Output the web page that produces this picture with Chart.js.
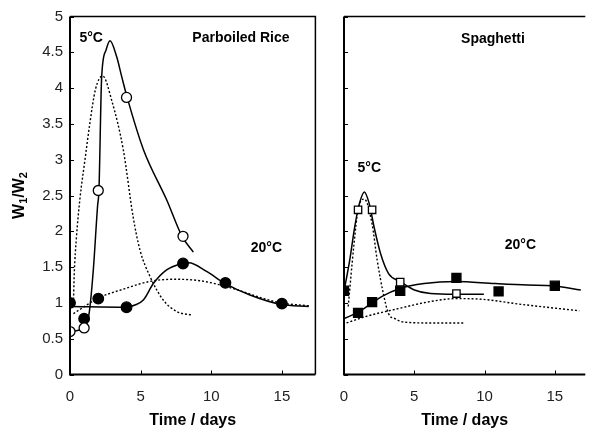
<!DOCTYPE html>
<html>
<head>
<meta charset="utf-8">
<script src="https://cdn.jsdelivr.net/npm/chart.js@4.4.0/dist/chart.umd.min.js"></script>
<style>
  html, body { margin: 0; padding: 0; background: #fff; overflow: hidden; }
  #wrap { position: relative; width: 593px; height: 430px; }
  .panel { position: absolute; top: 0; height: 430px; }
  #rice_box { left: 0; width: 322px; }
  #spag_box { left: 300px; width: 293px; }
</style>
</head>
<body>
<div id="wrap">
  <div class="panel" id="rice_box"><canvas id="rice_chart"></canvas></div>
  <div class="panel" id="spag_box"><canvas id="spag_chart"></canvas></div>
</div>
<script>
// measured W1/W2 values, parboiled rice
const riceDays5 = [0, 1, 2, 4, 8];
const riceRatio5 = [0.6, 0.65, 2.57, 3.87, 1.93];
const riceDays20 = [0, 1, 2, 4, 8, 11, 15];
const riceRatio20 = [1.0, 0.78, 1.06, 0.94, 1.55, 1.28, 0.99];

// fitted curves (solid) and model curves (dotted), parboiled rice
const riceFit5X = [0, 1, 1.35, 1.65, 1.95, 2.05, 2.24, 2.55, 2.83, 3.3, 3.66, 4.06, 5.2, 6.84, 7.93, 8.73];
const riceFit5Y = [0.6, 0.65, 0.85, 1.46, 2.35, 2.58, 4.15, 4.53, 4.66, 4.44, 4.16, 3.86, 3.14, 2.44, 1.93, 1.71];
const riceModel5X = [0.25, 0.3, 0.45, 0.7, 1.06, 1.4, 1.8, 2.31, 2.95, 3.77, 4.47, 4.95, 5.66, 6.6, 7.55, 8.6];
const riceModel5Y = [1.05, 1.4, 1.9, 2.45, 3.0, 3.5, 3.98, 4.17, 3.83, 3.14, 2.2, 1.74, 1.37, 1.04, 0.88, 0.83];
const riceFit20X = [0, 4, 4.6, 5.19, 5.9, 6.84, 7.93, 8.4, 9.67, 10.9, 12.74, 14.9, 16.9];
const riceFit20Y = [0.95, 0.94, 0.97, 1.04, 1.27, 1.46, 1.55, 1.56, 1.44, 1.28, 1.11, 0.98, 0.95];
const riceModel20X = [0.24, 2.05, 3.9, 5.66, 7.3, 9.2, 11.56, 13.4, 14.9, 16.9];
const riceModel20Y = [0.85, 1.07, 1.2, 1.3, 1.33, 1.31, 1.2, 1.08, 1.0, 0.96];

// measured W1/W2 values, spaghetti
const spagDays5 = [1, 2, 4, 8];
const spagRatio5 = [2.3, 2.3, 1.29, 1.13];
const spagDays20 = [0, 1, 2, 4, 8, 11, 15];
const spagRatio20 = [1.17, 0.86, 1.01, 1.17, 1.35, 1.16, 1.24];

// fitted curves (solid) and model curves (dotted), spaghetti
const spagFit5X = [0, 0.41, 0.76, 1.1, 1.45, 1.79, 2.14, 2.6, 3.17, 3.98, 5.01, 6.16, 7.9, 9.95];
const spagFit5Y = [1.16, 1.6, 2.06, 2.39, 2.55, 2.39, 2.06, 1.69, 1.41, 1.3, 1.18, 1.13, 1.12, 1.12];
const spagModel5X = [0.3, 0.7, 1.0, 1.45, 2.0, 2.36, 2.8, 3.17, 3.63, 4.32, 6.16, 8.57];
const spagModel5Y = [0.95, 1.8, 2.3, 2.45, 2.1, 1.6, 1.13, 0.85, 0.78, 0.73, 0.72, 0.72];
const spagFit20X = [0, 1, 2, 2.71, 3.98, 5.7, 7.95, 10.76, 13.06, 14.85, 16.85];
const spagFit20Y = [0.78, 0.87, 1.0, 1.09, 1.2, 1.27, 1.3, 1.27, 1.25, 1.24, 1.18];
const spagModel20X = [0.18, 1.56, 3.86, 6.16, 8.0, 9.84, 12.6, 16.74];
const spagModel20Y = [0.72, 0.81, 0.92, 1.02, 1.06, 1.05, 0.98, 0.89];

const yTicks = [0, 0.5, 1, 1.5, 2, 2.5, 3, 3.5, 4, 4.5, 5];
const xTicks = [0, 5, 10, 15];

const FONT = "'Liberation Sans', Arial, sans-serif";

function pts(xs, ys) {
  return xs.map((x, i) => ({ x: x, y: ys[i] }));
}

function markers(xs, ys, style, filled, r) {
  return {
    data: pts(xs, ys),
    showLine: false,
    pointStyle: style,
    pointRadius: r,
    pointHoverRadius: r,
    pointBackgroundColor: filled ? "#000" : "#fff",
    pointBorderColor: "#000",
    pointBorderWidth: 1.3,
  };
}

function curve(xs, ys, dotted) {
  return {
    data: pts(xs, ys),
    showLine: true,
    pointRadius: 0,
    pointHoverRadius: 0,
    borderColor: "#000",
    borderWidth: dotted ? 1.4 : 1.5,
    borderDash: dotted ? [2, 2] : [],
    cubicInterpolationMode: "monotone",
    fill: false,
  };
}

// frame, inward ticks, panel texts and the W1/W2 axis title
function panelDecor(texts, withTitle, closeRight) {
  return {
    id: "panelDecor",
    afterDraw(chart) {
      const c = chart.ctx;
      const a = chart.chartArea;
      const xs = chart.scales.x, ys = chart.scales.y;
      c.save();
      c.strokeStyle = "#000";
      c.lineWidth = 2;
      c.beginPath();
      c.moveTo(a.left, a.top);
      c.lineTo(a.left, a.bottom);
      c.lineTo(a.right, a.bottom);
      c.stroke();
      c.lineWidth = 1.5;
      c.beginPath();
      c.moveTo(a.left, a.top);
      c.lineTo(a.right, a.top);
      if (closeRight) c.lineTo(a.right, a.bottom);
      c.stroke();

      c.lineWidth = 1;
      c.beginPath();
      yTicks.forEach(v => {
        const py = Math.round(ys.getPixelForValue(v)) + 0.5;
        c.moveTo(a.left, py);
        c.lineTo(a.left + 4, py);
      });
      xTicks.forEach(v => {
        const px = Math.round(xs.getPixelForValue(v)) + 0.5;
        c.moveTo(px, a.bottom);
        c.lineTo(px, a.bottom - 4);
      });
      c.stroke();

      c.fillStyle = "#000";
      c.font = "bold 14px " + FONT;
      c.textAlign = "center";
      c.textBaseline = "middle";
      texts.forEach(t => {
        c.fillText(t.text, xs.getPixelForValue(t.x), ys.getPixelForValue(t.y));
      });

      if (withTitle) {
        const parts = [["W", 16, 0], ["1", 11, 4], ["/", 16, 0], ["W", 16, 0], ["2", 11, 4]];
        let total = 0;
        parts.forEach(p => {
          c.font = "bold " + p[1] + "px " + FONT;
          total += c.measureText(p[0]).width;
        });
        c.translate(20, (a.top + a.bottom) / 2);
        c.rotate(-Math.PI / 2);
        c.textAlign = "left";
        c.textBaseline = "middle";
        let pos = -total / 2;
        parts.forEach(p => {
          c.font = "bold " + p[1] + "px " + FONT;
          c.fillText(p[0], pos, p[2]);
          pos += c.measureText(p[0]).width;
        });
      }
      c.restore();
    },
  };
}

function panelOptions(xMax, yWidth, padRight, showY) {
  return {
    responsive: true,
    maintainAspectRatio: false,
    animation: false,
    layout: { padding: { top: 16.5, right: padRight, bottom: 0, left: 0 } },
    plugins: { legend: { display: false }, tooltip: { enabled: false } },
    scales: {
      x: {
        type: "linear",
        min: 0,
        max: xMax,
        grid: { display: false, drawTicks: false },
        border: { display: false },
        ticks: {
          stepSize: 5,
          includeBounds: false,
          padding: 13,
          color: "#222",
          font: { family: FONT, size: 15 },
        },
        title: {
          display: true,
          text: "Time / days",
          color: "#000",
          font: { family: FONT, size: 16, weight: "bold" },
          padding: { top: 4, bottom: 0 },
        },
        afterFit(scale) { scale.height = 55.5; },
      },
      y: {
        type: "linear",
        min: 0,
        max: 5,
        grid: { display: false, drawTicks: false },
        border: { display: false },
        ticks: {
          display: showY,
          stepSize: 0.5,
          padding: 7,
          color: "#222",
          font: { family: FONT, size: 15 },
          callback: v => String(v),
        },
        afterFit(scale) { scale.width = yWidth; },
      },
    },
  };
}

const ctx = document.getElementById("rice_chart");
new Chart(ctx, {
  type: "scatter",
  data: {
    datasets: [
      markers(riceDays5, riceRatio5, "circle", false, 5),
      markers(riceDays20, riceRatio20, "circle", true, 5.3),
      curve(riceFit5X, riceFit5Y, false),
      curve(riceFit20X, riceFit20Y, false),
      curve(riceModel5X, riceModel5Y, true),
      curve(riceModel20X, riceModel20Y, true),
    ],
  },
  options: panelOptions(17.37, 70, 6.5, true),
  plugins: [panelDecor([
    { text: "5°C", x: 1.5, y: 4.7 },
    { text: "Parboiled Rice", x: 12.1, y: 4.7 },
    { text: "20°C", x: 13.9, y: 1.77 },
  ], true, true)],
});

const ctx1 = document.getElementById("spag_chart");
new Chart(ctx1, {
  type: "scatter",
  data: {
    datasets: [
      markers(spagDays5, spagRatio5, "rect", false, 5.2),
      markers(spagDays20, spagRatio20, "rect", true, 6.4),
      curve(spagFit5X, spagFit5Y, false),
      curve(spagFit20X, spagFit20Y, false),
      curve(spagModel5X, spagModel5Y, true),
      curve(spagModel20X, spagModel20Y, true),
    ],
  },
  options: panelOptions(17.17, 44, 0, false),
  plugins: [panelDecor([
    { text: "Spaghetti", x: 10.6, y: 4.68 },
    { text: "5°C", x: 1.8, y: 2.88 },
    { text: "20°C", x: 12.55, y: 1.8 },
  ], false, false)],
});
</script>
</body>
</html>
